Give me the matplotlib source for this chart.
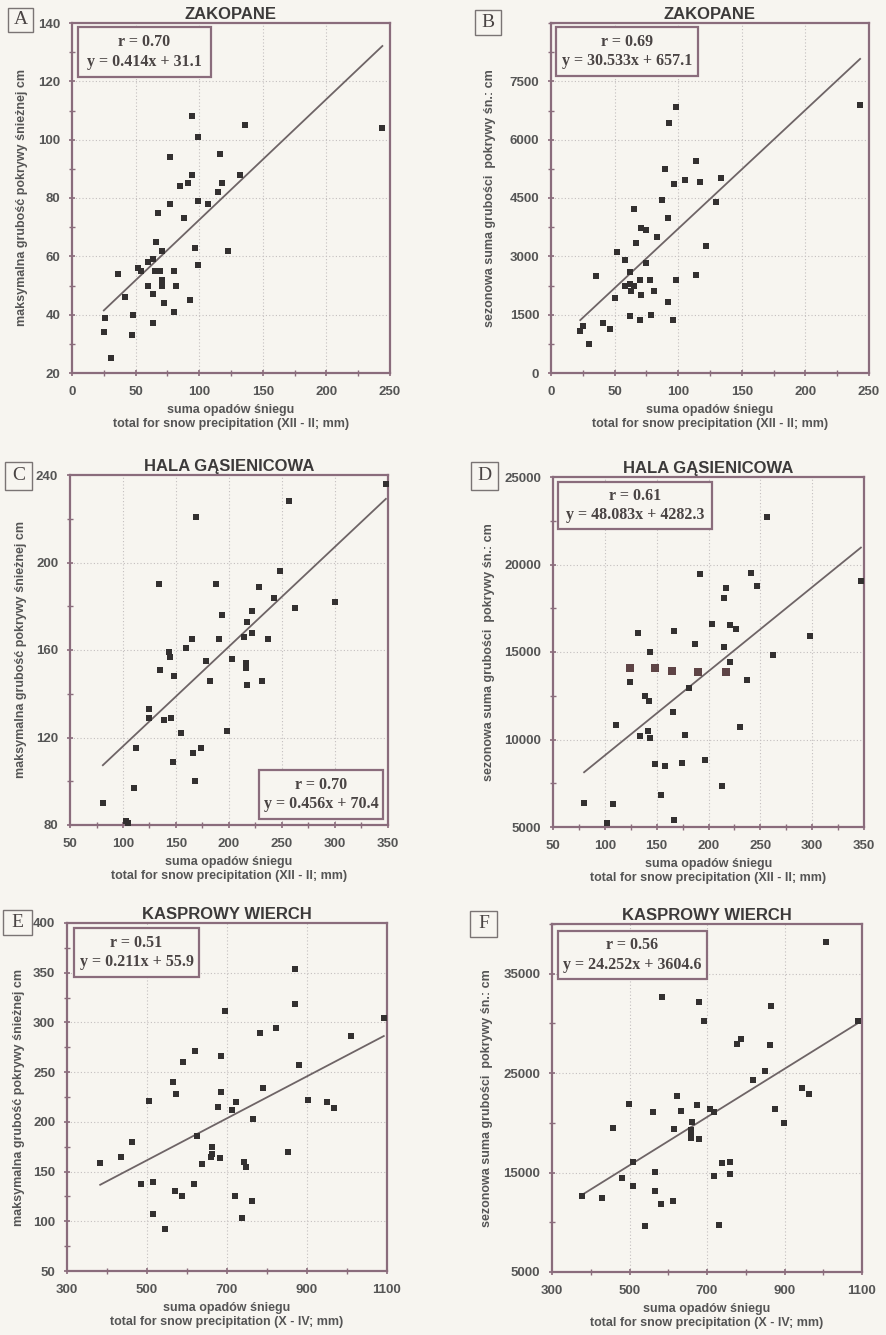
import numpy as np
import matplotlib.pyplot as plt
from matplotlib.patches import Rectangle
from matplotlib.ticker import MultipleLocator

plt.rcParams['font.family'] = ['Liberation Sans', 'DejaVu Sans']

BG = '#f7f5f0'
FRAME = '#8a6c7c'
TXT = '#555555'
W, H = 887, 1335

# --- data ---------------------------------------------------------------
# A: Zakopane, max snow depth vs snow precipitation (XII-II)
a_x = [25, 26, 31, 36, 42, 47, 48, 52, 54, 60, 60, 64, 64, 64, 65, 66, 68, 69, 71, 71, 71, 72, 77,
       77, 80, 80, 82, 85, 88, 91, 93, 94, 94, 97, 99, 99, 99, 107, 115, 116, 118, 123, 132, 136, 244]
a_y = [34, 39, 25, 54, 46, 33, 40, 56, 55, 58, 50, 47, 37, 59, 55, 65, 75, 55, 62, 52, 50, 44, 94,
       78, 55, 41, 50, 84, 73, 85, 45, 108, 88, 63, 101, 79, 57, 78, 82, 95, 85, 62, 88, 105, 104]

# B: Zakopane, seasonal sum of snow depth
b_x = [23, 25, 30, 35, 41, 46, 50, 52, 58, 58, 62, 62, 62, 63, 65, 65, 67, 70, 70, 71, 71, 75,
       75, 78, 79, 81, 83, 87, 90, 92, 92, 93, 96, 97, 98, 98, 105, 114, 114, 117, 122, 130, 134, 243]
b_y = [1080, 1200, 740, 2490, 1290, 1120, 1940, 3100, 2910, 2240, 2600, 1460, 2300, 2100, 2240,
       4210, 3350, 2400, 1370, 3730, 2000, 3680, 2820, 2400, 1480, 2110, 3510, 4440, 5250, 1820,
       3990, 6440, 1370, 4870, 6840, 2390, 4970, 2530, 5460, 4910, 3260, 4400, 5020, 6900]

# C: Hala Gasienicowa, max snow depth
c_x = [81, 103, 105, 110, 112, 125, 125, 134, 135, 139, 143, 144, 145, 147, 148, 155, 159, 165,
       166, 168, 169, 174, 178, 182, 188, 191, 193, 198, 203, 214, 216, 216, 217, 217, 222, 222,
       228, 231, 237, 242, 248, 257, 262, 300, 348]
c_y = [90, 82, 81, 97, 115, 133, 129, 190, 151, 128, 159, 157, 129, 109, 148, 122, 161, 165,
       113, 100, 221, 115, 155, 146, 190, 165, 176, 123, 156, 166, 152, 154, 144, 173, 178, 168,
       189, 146, 165, 184, 196, 228, 179, 182, 236]

# D: Hala Gasienicowa, seasonal sum of snow depth
d_x = [80, 102, 108, 111, 124, 132, 134, 139, 142, 143, 144, 144, 148, 154, 158, 166, 167, 167,
       174, 177, 181, 187, 192, 197, 203, 213, 215, 215, 217, 221, 221, 227, 230, 237, 241, 247,
       256, 262, 298, 347]
d_y = [6390, 5250, 6300, 10850, 13270, 16100, 10200, 12490, 10490, 12200, 10070, 15000, 8620,
       6850, 8470, 11590, 5380, 16200, 8660, 10240, 12940, 15480, 19460, 8850, 16620, 7340,
       18100, 15300, 18660, 16540, 14410, 16300, 10710, 13420, 19510, 18750, 22710, 14830,
       15910, 19040]
# the row of darker (brownish) squares around 14000
d_hx = [124, 148, 165, 190, 217]
d_hy = [14100, 14100, 13910, 13840, 13860]

# E: Kasprowy Wierch, max snow depth vs precipitation (X-IV)
e_x = [383, 434, 463, 486, 506, 516, 515, 546, 566, 570, 572, 587, 589, 620, 617, 626, 637, 663,
       663, 661, 678, 682, 685, 685, 696, 712, 722, 721, 737, 742, 748, 764, 763, 782, 791, 822,
       853, 869, 869, 880, 902, 950, 968, 1009, 1092]
e_y = [159, 165, 180, 137, 221, 140, 107, 92, 240, 130, 228, 125, 260, 271, 137, 186, 158, 175,
       168, 165, 215, 164, 266, 230, 311, 212, 220, 125, 103, 160, 155, 203, 120, 289, 234, 294,
       170, 354, 319, 257, 222, 220, 214, 286, 304]

# F: Kasprowy Wierch, seasonal sum of snow depth
f_x = [377, 430, 458, 480, 499, 508, 510, 540, 560, 566, 566, 582, 585, 612, 614, 623, 632, 658,
       658, 658, 661, 674, 679, 680, 692, 709, 717, 718, 731, 739, 759, 759, 778, 789, 818, 850,
       863, 865, 876, 899, 946, 963, 1007, 1089]
f_y = [12660, 12460, 19510, 14470, 21900, 13630, 16090, 9600, 21060, 15080, 13130, 11790, 32610,
       12120, 19340, 22670, 21160, 19280, 18870, 18440, 20120, 21800, 18400, 32110, 30290, 21360,
       21060, 14610, 9770, 15980, 16050, 14840, 27940, 28410, 24320, 25220, 27810, 31740, 21390,
       19980, 23510, 22900, 38190, 30230]

letters = ['A', 'B', 'C', 'D', 'E', 'F']
titles = ['ZAKOPANE', 'ZAKOPANE', 'HALA GĄSIENICOWA', 'HALA GĄSIENICOWA',
          'KASPROWY WIERCH', 'KASPROWY WIERCH']
r_vals = ['0.70', '0.69', '0.70', '0.61', '0.51', '0.56']
slopes = [0.414, 30.533, 0.456, 48.083, 0.211, 24.252]
intercepts = [31.1, 657.1, 70.4, 4282.3, 55.9, 3604.6]
eq_texts = ['y = 0.414x + 31.1', 'y = 30.533x + 657.1', 'y = 0.456x + 70.4',
            'y = 48.083x + 4282.3', 'y = 0.211x + 55.9', 'y = 24.252x + 3604.6']
ylab_max = 'maksymalna grubość pokrywy śnieżnej cm'
ylab_sum = 'sezonowa suma grubości  pokrywy śn.: cm'
xlab_1 = 'suma opadów śniegu\ntotal for snow precipitation (XII - II; mm)'
xlab_2 = 'suma opadów śniegu\ntotal for snow precipitation (X - IV; mm)'

# --- layout (pixels of the 887x1335 page) ---------------------------------
# axes boxes: left, right, top, bottom
axes_px = [(72, 390, 23, 373), (551, 869, 23, 373),
           (70, 388, 475, 825), (553, 864, 477, 827),
           (67, 387, 923, 1271), (552, 862, 924, 1272)]
letter_px = [(8, 33, 8, 32), (475, 501, 10, 35),
             (5, 32, 462, 490), (471, 498, 462, 490),
             (3, 32, 910, 935), (470, 497, 911, 937)]
# stats box in axes fraction: x0, x1, y0, y1
stat_box = [(0.019, 0.437, 0.846, 0.989), (0.016, 0.462, 0.849, 0.989),
            (0.594, 0.984, 0.017, 0.157), (0.016, 0.511, 0.851, 0.986),
            (0.022, 0.413, 0.845, 0.986), (0.019, 0.500, 0.842, 0.980)]
ylab_x = [-0.138, -0.173, -0.135, -0.186, -0.131, -0.19]

xlims = [(0, 250), (0, 250), (50, 350), (50, 350), (300, 1100), (300, 1100)]
ylims = [(20, 140), (0, 9000), (80, 240), (5000, 25000), (50, 400), (5000, 40000)]
xticks = [np.arange(0, 251, 50), np.arange(0, 251, 50), np.arange(50, 351, 50),
          np.arange(50, 351, 50), np.arange(300, 1101, 200), np.arange(300, 1101, 200)]
yticks = [np.arange(20, 141, 20), np.arange(0, 7501, 1500), np.arange(80, 241, 40),
          np.arange(5000, 25001, 5000), np.arange(50, 401, 50), np.arange(5000, 35001, 10000)]
xminor = [25, 25, 25, 25, 100, 100]
yminor = [10, 750, 20, 2500, 25, 5000]

data = [(a_x, a_y), (b_x, b_y), (c_x, c_y), (d_x, d_y), (e_x, e_y), (f_x, f_y)]


def px_to_fig(l, r, t, b):
    return [l / W, 1 - b / H, (r - l) / W, (b - t) / H]


fig = plt.figure(figsize=(W / 100, H / 100), dpi=100, facecolor=BG)

for i in range(6):
    ax = fig.add_axes(px_to_fig(*axes_px[i]))
    ax.set_facecolor(BG)
    x, y = data[i]
    ax.set_xlim(*xlims[i])
    ax.set_ylim(*ylims[i])
    ax.set_xticks(xticks[i])
    ax.set_yticks(yticks[i])
    ax.xaxis.set_minor_locator(MultipleLocator(xminor[i]))
    ax.yaxis.set_minor_locator(MultipleLocator(yminor[i]))

    # dotted grid on major ticks only
    for gx in xticks[i]:
        if xlims[i][0] < gx < xlims[i][1]:
            ax.axvline(gx, color='#c4bfbf', lw=0.8, ls=(0, (1, 2)), zorder=1)
    for gy in yticks[i]:
        if ylims[i][0] < gy < ylims[i][1]:
            ax.axhline(gy, color='#c4bfbf', lw=0.8, ls=(0, (1, 2)), zorder=1)

    ax.scatter(x, y, marker='s', s=21, color='#333030', linewidths=0, zorder=3)
    if i == 3:
        ax.scatter(d_hx, d_hy, marker='s', s=38, color='#5e4446', linewidths=0, zorder=3)
        all_x = x + d_hx
    else:
        all_x = x

    xs = np.array([min(all_x), max(all_x)])
    ax.plot(xs, slopes[i] * xs + intercepts[i], color='#6e6466', lw=1.3, zorder=2)

    for s in ax.spines.values():
        s.set_color(FRAME)
        s.set_linewidth(1.6)
    ax.tick_params(which='major', direction='inout', length=5, width=1.2, color=FRAME,
                   labelsize=9.5, labelcolor=TXT, pad=6)
    ax.tick_params(which='minor', direction='inout', length=4, width=1.0, color=FRAME)
    ax.tick_params(axis='x', which='major', pad=7)
    for lab in ax.get_xticklabels() + ax.get_yticklabels():
        lab.set_fontweight('bold')

    ax.set_title(titles[i], fontsize=12, fontweight='bold', color='#3c3a3a', pad=3)
    ax.set_ylabel(ylab_max if i % 2 == 0 else ylab_sum, fontsize=9, fontweight='bold',
                  color=TXT)
    ax.yaxis.set_label_coords(ylab_x[i], 0.5)
    ax.set_xlabel(xlab_1 if i < 4 else xlab_2, fontsize=9, fontweight='bold', color=TXT,
                  linespacing=1.25, labelpad=4)

    # stats box
    x0, x1, y0, y1 = stat_box[i]
    ax.add_patch(Rectangle((x0, y0), x1 - x0, y1 - y0, transform=ax.transAxes,
                           facecolor=BG, edgecolor=FRAME, lw=1.6, zorder=5))
    cx = (x0 + x1) / 2
    hgt = y1 - y0
    ax.text(cx, y1 - hgt * 0.3, 'r = ' + r_vals[i], transform=ax.transAxes,
            ha='center', va='center', fontsize=11.5, fontweight='bold',
            family='Liberation Serif', color='#4a4444', zorder=6)
    ax.text(cx, y0 + hgt * 0.3, eq_texts[i], transform=ax.transAxes,
            ha='center', va='center', fontsize=11.5, fontweight='bold',
            family='Liberation Serif', color='#4a4444', zorder=6)

    # panel letter
    l, r, t, b = letter_px[i]
    fig.patches.append(Rectangle((l / W, 1 - b / H), (r - l) / W, (b - t) / H,
                                 transform=fig.transFigure, facecolor=BG,
                                 edgecolor='#7a7474', lw=1.0))
    fig.text((l + r) / 2 / W, 1 - (t + b) / 2 / H, letters[i], ha='center', va='center',
             fontsize=14, family='Liberation Serif', color='#4a4444')

fig.savefig('out.png', dpi=100, facecolor=BG)
